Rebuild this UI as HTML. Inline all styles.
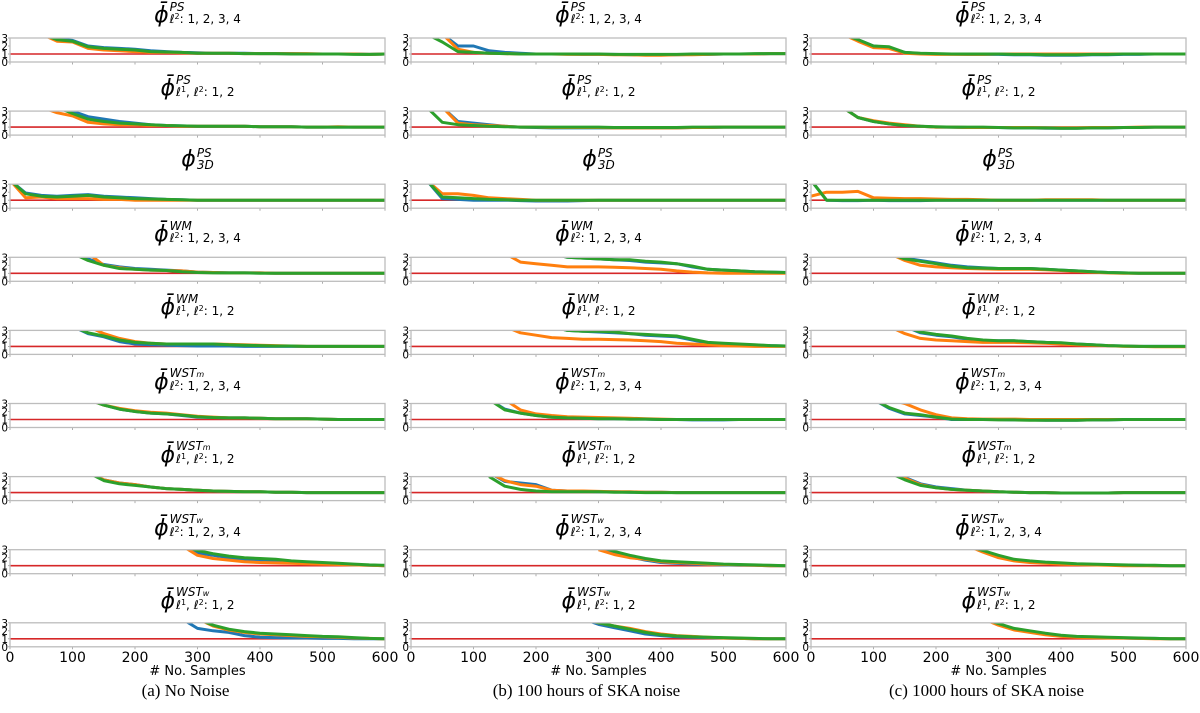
<!DOCTYPE html>
<html><head><meta charset="utf-8">
<style>
html,body{margin:0;padding:0;background:#fff;}
#root{position:relative;width:1200px;height:713px;overflow:hidden;font-family:"DejaVu Sans","Liberation Sans",sans-serif;}
.t{position:absolute;transform:translateX(-50%);white-space:nowrap;display:flex;align-items:flex-end;color:#000;}
.phi{font-size:22px;font-style:italic;line-height:22px;}
.ss{display:inline-flex;flex-direction:column;margin-left:1px;}
.sp{font-size:12px;font-style:italic;line-height:11px;}
.sb{font-size:12px;line-height:12px;margin-top:0px;}
.cap{position:absolute;transform:translateX(-50%);font-family:"Liberation Serif",serif;font-size:17px;white-space:nowrap;}
svg text{font-family:"DejaVu Sans","Liberation Sans",sans-serif;}
</style></head>
<body>
<div id="root">
<svg id="chart" width="1200" height="713" style="position:absolute;left:0;top:0"></svg>
</div>
<script>
const n = null;
const xSamples = [0,25,50,75,100,125,150,175,200,225,250,275,300,325,350,375,400,425,450,475,500,525,550,575,600];
const xTicks = [0,100,200,300,400,500,600];
const yTicks = [0,1,2,3];
const trueValue = 1;
const captions = ["(a) No Noise","(b) 100 hours of SKA noise","(c) 1000 hours of SKA noise"];
const seriesNames = ["blue","orange","green"];

const A1 = [[n,n,3.5,2.9,2.7,2.0,1.8,1.7,1.6,1.4,1.3,1.2,1.15,1.1,1.1,1.1,1.05,1.05,1.05,1.0,1.0,1.0,1.0,0.95,1.0],
[n,n,3.5,2.6,2.5,1.7,1.5,1.4,1.3,1.2,1.2,1.15,1.1,1.1,1.1,1.05,1.05,1.05,1.05,1.05,1.0,1.0,1.0,0.95,1.0],
[n,n,3.5,2.8,2.6,1.9,1.7,1.6,1.5,1.3,1.25,1.2,1.1,1.1,1.1,1.05,1.05,1.05,1.0,1.0,1.0,1.0,0.95,0.95,1.0]];
const A2 = [[n,n,n,3.5,3.0,2.3,2.0,1.7,1.5,1.3,1.2,1.15,1.1,1.1,1.1,1.1,1.05,1.05,1.05,1.0,1.0,1.0,1.0,1.0,1.0],
[n,n,3.5,2.8,2.4,1.6,1.4,1.3,1.3,1.2,1.2,1.1,1.1,1.1,1.1,1.1,1.05,1.05,1.05,1.0,1.0,1.05,1.0,1.0,1.0],
[n,n,n,3.5,2.7,2.0,1.7,1.5,1.4,1.3,1.2,1.15,1.1,1.1,1.1,1.1,1.05,1.05,1.05,1.0,1.0,1.0,1.0,1.0,1.0]];
const A3 = [[3.5,1.9,1.6,1.5,1.6,1.7,1.5,1.4,1.3,1.2,1.1,1.05,1.0,1.0,1.0,1.0,1.0,1.0,1.0,1.0,1.0,1.0,1.0,1.0,1.0],
[3.5,1.3,1.4,1.2,1.2,1.2,1.1,1.1,1.0,1.0,1.0,1.0,1.0,1.0,1.0,1.0,1.0,1.0,1.0,1.0,1.0,1.0,1.0,1.0,1.0],
[3.5,1.8,1.5,1.4,1.5,1.6,1.4,1.3,1.2,1.15,1.1,1.05,1.0,1.0,1.0,1.0,1.0,1.0,1.0,1.0,1.0,1.0,1.0,1.0,1.0]];
const A4 = [[n,n,n,n,3.5,2.8,2.1,1.8,1.6,1.5,1.4,1.3,1.15,1.1,1.05,1.05,1.05,1.0,1.0,1.0,1.0,1.0,1.0,1.0,1.0],
[n,n,n,n,n,3.5,2.0,1.7,1.5,1.4,1.35,1.3,1.15,1.1,1.05,1.05,1.05,1.0,1.0,1.0,1.0,1.0,1.0,1.0,1.0],
[n,n,n,n,3.5,2.6,2.0,1.6,1.5,1.4,1.35,1.2,1.1,1.05,1.05,1.05,1.0,1.0,1.0,1.0,1.0,1.0,1.0,1.0,1.0]];
const A5 = [[n,n,n,n,3.5,2.6,2.2,1.6,1.3,1.2,1.15,1.1,1.05,1.05,1.05,1.0,1.0,1.0,1.0,1.0,1.0,1.0,1.0,1.0,1.0],
[n,n,n,n,n,3.5,2.6,2.0,1.6,1.4,1.3,1.3,1.3,1.3,1.25,1.2,1.15,1.1,1.05,1.0,1.0,1.0,1.0,1.0,1.0],
[n,n,n,n,3.5,2.7,2.3,1.8,1.5,1.4,1.3,1.3,1.3,1.3,1.2,1.15,1.1,1.05,1.05,1.0,1.0,1.0,1.0,1.0,1.0]];
const A6 = [[n,n,n,n,n,3.5,2.8,2.3,2.0,1.8,1.7,1.5,1.3,1.25,1.2,1.2,1.15,1.1,1.1,1.1,1.05,1.0,1.0,1.0,1.0],
[n,n,n,n,n,3.5,2.8,2.4,2.1,1.9,1.8,1.6,1.4,1.3,1.2,1.2,1.15,1.1,1.1,1.1,1.05,1.0,1.0,1.0,1.0],
[n,n,n,n,n,3.5,2.8,2.3,2.0,1.8,1.7,1.55,1.35,1.25,1.2,1.2,1.15,1.1,1.1,1.1,1.05,1.0,1.0,1.0,1.0]];
const A7 = [[n,n,n,n,n,3.5,2.6,2.2,2.0,1.7,1.5,1.4,1.3,1.2,1.15,1.1,1.1,1.05,1.05,1.0,1.0,1.0,1.0,1.0,1.0],
[n,n,n,n,n,3.5,2.6,2.2,2.0,1.7,1.5,1.4,1.3,1.2,1.15,1.1,1.1,1.05,1.05,1.0,1.0,1.0,1.0,1.0,1.0],
[n,n,n,n,n,3.5,2.5,2.1,1.9,1.7,1.5,1.4,1.3,1.2,1.15,1.1,1.1,1.05,1.05,1.0,1.0,1.0,1.0,1.0,1.0]];
const A8 = [[n,n,n,n,n,n,n,n,n,n,n,3.5,2.6,2.3,2.0,1.8,1.7,1.6,1.5,1.4,1.3,1.2,1.1,1.05,1.0],
[n,n,n,n,n,n,n,n,n,n,n,3.5,2.3,1.9,1.7,1.5,1.4,1.35,1.3,1.25,1.2,1.15,1.1,1.05,1.0],
[n,n,n,n,n,n,n,n,n,n,n,3.5,2.9,2.5,2.2,2.0,1.9,1.8,1.6,1.5,1.4,1.3,1.2,1.1,1.05]];
const A9 = [[n,n,n,n,n,n,n,n,n,n,n,3.5,2.3,2.0,1.8,1.4,1.2,1.15,1.1,1.1,1.05,1.05,1.0,1.0,1.0],
[n,n,n,n,n,n,n,n,n,n,n,n,3.5,2.6,2.1,1.8,1.6,1.5,1.4,1.3,1.25,1.2,1.1,1.05,1.0],
[n,n,n,n,n,n,n,n,n,n,n,n,3.5,2.7,2.2,1.9,1.7,1.6,1.5,1.4,1.3,1.25,1.15,1.05,1.0]];

const B1 = [[n,n,3.5,2.0,2.0,1.4,1.2,1.1,1.0,1.0,1.0,0.95,0.95,0.95,0.9,0.9,0.9,0.9,0.95,0.95,1.0,1.0,1.0,1.05,1.05],
[n,n,3.5,1.6,1.2,1.1,1.05,1.0,1.0,1.0,0.95,0.95,0.95,0.9,0.9,0.85,0.85,0.9,0.9,0.95,1.0,1.0,1.0,1.05,1.05],
[n,3.5,2.5,1.3,1.2,1.1,1.05,1.0,1.0,1.0,1.0,1.0,1.0,0.95,0.95,0.95,0.95,0.95,1.0,1.0,1.0,1.0,1.05,1.05,1.05]];
const B2 = [[n,n,3.5,1.7,1.5,1.3,1.1,1.0,0.95,0.9,0.9,0.9,0.9,0.9,0.9,0.9,0.9,0.9,0.95,0.95,1.0,1.0,1.0,1.0,1.0],
[n,n,3.5,1.5,1.3,1.2,1.1,1.0,1.0,0.95,0.95,0.95,0.95,0.9,0.9,0.9,0.9,0.9,0.95,0.95,1.0,1.0,1.0,1.0,1.0],
[n,3.5,1.6,1.3,1.2,1.1,1.05,1.0,1.0,1.0,1.0,1.0,1.0,0.95,0.95,0.95,0.95,0.95,1.0,1.0,1.0,1.0,1.0,1.0,1.0]];
const B3 = [[3.5,3.5,1.2,1.1,1.0,1.0,1.0,0.95,0.9,0.9,0.9,0.95,1.0,1.0,1.0,1.0,1.0,1.0,1.0,1.0,1.0,1.0,1.0,1.0,1.0],
[3.5,3.5,1.8,1.8,1.6,1.3,1.2,1.1,1.0,1.0,1.0,1.0,1.0,1.0,1.0,1.0,1.0,1.0,1.0,1.0,1.0,1.0,1.0,1.0,1.0],
[3.5,3.5,1.4,1.3,1.2,1.1,1.05,1.0,1.0,1.0,1.0,1.0,1.0,1.0,1.0,1.0,1.0,1.0,1.0,1.0,1.0,1.0,1.0,1.0,1.0]];
const B4 = [[n,n,n,n,n,n,n,n,n,3.5,3.0,2.9,2.8,2.7,2.6,2.4,2.3,2.2,1.8,1.5,1.4,1.3,1.2,1.15,1.1],
[n,n,n,n,n,n,3.5,2.4,2.2,2.0,1.8,1.8,1.8,1.75,1.7,1.6,1.5,1.3,1.15,1.05,1.0,1.0,1.0,1.0,1.0],
[n,n,n,n,n,n,n,n,n,3.5,3.0,2.9,2.8,2.7,2.7,2.5,2.4,2.2,1.9,1.5,1.4,1.3,1.2,1.15,1.1]];
const B5 = [[n,n,n,n,n,n,n,n,n,3.5,3.0,2.9,2.8,2.7,2.6,2.4,2.3,2.2,1.8,1.4,1.3,1.2,1.15,1.1,1.05],
[n,n,n,n,n,n,3.5,2.7,2.4,2.1,2.0,1.9,1.9,1.85,1.8,1.7,1.6,1.4,1.3,1.2,1.1,1.05,1.0,1.0,1.0],
[n,n,n,n,n,n,n,n,n,3.5,3.0,2.9,2.9,2.8,2.6,2.5,2.4,2.3,1.9,1.5,1.4,1.3,1.2,1.1,1.05]];
const B6 = [[n,n,n,n,n,3.5,2.3,1.8,1.5,1.3,1.2,1.15,1.1,1.1,1.05,1.05,1.0,1.0,0.95,0.95,0.95,1.0,1.0,1.0,1.0],
[n,n,n,n,n,n,3.5,2.2,1.7,1.5,1.35,1.3,1.25,1.2,1.15,1.1,1.05,1.0,1.0,1.0,1.0,1.0,1.0,1.0,1.0],
[n,n,n,n,n,3.5,2.2,1.8,1.5,1.3,1.2,1.15,1.1,1.1,1.05,1.05,1.0,1.0,1.0,1.0,1.0,1.0,1.0,1.0,1.0]];
const B7 = [[n,n,n,n,n,3.5,2.4,2.2,2.0,1.3,1.2,1.15,1.1,1.1,1.05,1.05,1.05,1.0,1.0,1.0,1.0,1.0,1.0,1.0,1.0],
[n,n,n,n,n,3.5,2.5,2.0,1.8,1.3,1.2,1.2,1.15,1.1,1.1,1.05,1.05,1.0,1.0,1.0,1.0,1.0,1.0,1.0,1.0],
[n,n,n,n,n,3.0,1.8,1.4,1.2,1.1,1.1,1.1,1.1,1.05,1.05,1.0,1.0,1.0,1.0,1.0,1.0,1.0,1.0,1.0,1.0]];
const B8 = [[n,n,n,n,n,n,n,n,n,n,n,n,3.5,2.6,2.1,1.7,1.4,1.3,1.2,1.15,1.1,1.05,1.05,1.0,1.0],
[n,n,n,n,n,n,n,n,n,n,n,n,3.0,2.4,2.0,1.8,1.5,1.4,1.3,1.2,1.15,1.1,1.05,1.0,1.0],
[n,n,n,n,n,n,n,n,n,n,n,n,3.5,2.8,2.3,1.9,1.6,1.5,1.4,1.3,1.2,1.15,1.1,1.05,1.0]];
const B9 = [[n,n,n,n,n,n,n,n,n,n,n,3.5,2.8,2.4,2.0,1.6,1.4,1.25,1.2,1.15,1.1,1.05,1.0,1.0,1.0],
[n,n,n,n,n,n,n,n,n,n,n,3.5,3.0,2.6,2.3,1.9,1.6,1.4,1.3,1.2,1.1,1.05,1.0,1.0,1.0],
[n,n,n,n,n,n,n,n,n,n,n,3.5,3.0,2.6,2.2,1.8,1.5,1.35,1.25,1.2,1.15,1.1,1.05,1.0,1.0]];

const C1 = [[n,n,3.5,2.8,2.0,1.8,1.2,1.05,1.0,1.0,0.95,0.95,0.95,0.9,0.9,0.85,0.85,0.85,0.9,0.9,0.95,0.95,1.0,1.0,1.0],
[n,n,3.5,2.6,1.8,1.7,1.1,1.0,0.95,0.95,0.95,0.95,1.0,1.0,1.0,1.0,1.0,1.0,1.0,1.0,1.0,1.0,1.0,1.0,1.0],
[n,n,3.5,2.8,2.0,1.9,1.2,1.1,1.05,1.0,1.0,1.0,1.0,0.95,0.95,0.9,0.9,0.9,0.95,0.95,1.0,1.0,1.0,1.0,1.0]];
const C2 = [[n,3.5,3.5,2.2,1.7,1.4,1.2,1.1,1.0,1.0,0.95,0.95,0.95,0.9,0.9,0.85,0.85,0.85,0.9,0.9,0.95,0.95,1.0,1.0,1.0],
[n,3.5,3.5,2.2,1.8,1.5,1.3,1.1,1.0,1.0,0.95,0.95,0.95,0.95,0.95,0.9,0.9,0.9,0.95,0.95,0.95,1.0,1.0,1.0,1.0],
[n,3.5,3.5,2.2,1.7,1.4,1.2,1.1,1.05,1.0,1.0,1.0,0.95,0.9,0.9,0.9,0.85,0.85,0.9,0.9,0.95,0.95,1.0,1.0,1.0]];
const C3 = [[3.5,1.0,0.95,0.95,1.0,0.95,0.95,0.95,1.0,1.0,1.0,1.0,1.0,1.0,1.0,1.0,1.0,1.0,1.0,1.0,1.0,1.0,1.0,1.0,1.0],
[1.5,2.0,2.0,2.1,1.3,1.25,1.2,1.2,1.15,1.1,1.1,1.05,1.0,1.0,1.0,1.05,1.05,1.05,1.05,1.0,1.0,1.0,1.0,1.0,1.0],
[3.5,1.0,1.0,1.0,1.0,1.0,1.0,1.0,1.0,1.0,1.0,1.0,1.0,1.0,1.0,1.0,1.0,1.0,1.0,1.0,1.0,1.0,1.0,1.0,1.0]];
const C4 = [[n,n,n,n,n,3.5,2.9,2.6,2.3,2.0,1.8,1.7,1.6,1.6,1.6,1.5,1.4,1.3,1.2,1.1,1.05,1.0,1.0,1.0,1.0],
[n,n,n,n,n,3.5,2.6,2.0,1.8,1.7,1.6,1.55,1.5,1.5,1.5,1.45,1.35,1.25,1.15,1.05,1.0,1.0,1.0,1.0,1.0],
[n,n,n,n,n,3.5,2.8,2.5,2.2,1.9,1.7,1.65,1.6,1.6,1.6,1.5,1.4,1.3,1.2,1.1,1.05,1.0,1.0,1.0,1.0]];
const C5 = [[n,n,n,n,n,n,3.5,2.7,2.4,2.2,1.9,1.7,1.7,1.7,1.6,1.5,1.4,1.3,1.2,1.1,1.05,1.0,1.0,1.0,1.0],
[n,n,n,n,n,3.5,2.6,2.0,1.8,1.7,1.6,1.5,1.5,1.5,1.45,1.4,1.3,1.2,1.15,1.1,1.0,1.0,0.95,0.95,0.95],
[n,n,n,n,n,n,3.5,2.8,2.5,2.3,2.0,1.8,1.7,1.7,1.6,1.5,1.45,1.3,1.2,1.1,1.05,1.0,1.0,1.0,1.0]];
const C6 = [[n,n,n,n,3.5,2.4,1.7,1.5,1.3,1.0,1.0,1.0,1.0,0.95,0.95,0.9,0.9,0.9,0.95,0.95,1.0,1.0,1.0,1.0,1.0],
[n,n,n,n,n,3.5,3.0,2.2,1.6,1.2,1.1,1.05,1.05,1.05,1.0,1.0,1.0,1.0,1.0,1.0,1.0,1.0,1.0,1.0,1.0],
[n,n,n,n,3.5,2.5,1.8,1.6,1.3,1.05,1.0,1.0,0.95,0.95,0.9,0.9,0.9,0.9,0.95,0.95,1.0,1.0,1.0,1.0,1.0]];
const C7 = [[n,n,n,n,n,3.5,2.9,2.1,1.7,1.5,1.3,1.2,1.1,1.05,1.0,1.0,0.95,0.95,0.95,0.95,1.0,1.0,1.0,1.0,1.0],
[n,n,n,n,n,3.5,2.8,2.0,1.6,1.4,1.3,1.2,1.1,1.05,1.0,1.0,0.95,0.95,0.95,0.95,1.0,1.0,1.0,1.0,1.0],
[n,n,n,n,n,3.5,2.6,1.9,1.6,1.4,1.3,1.2,1.1,1.05,1.0,1.0,0.95,0.95,0.95,0.95,1.0,1.0,1.0,1.0,1.0]];
const C8 = [[n,n,n,n,n,n,n,n,n,n,3.5,2.8,2.2,1.7,1.5,1.4,1.3,1.2,1.15,1.1,1.05,1.05,1.0,1.0,1.0],
[n,n,n,n,n,n,n,n,n,n,3.5,2.7,2.0,1.6,1.4,1.3,1.2,1.15,1.1,1.05,1.0,1.0,1.0,1.0,1.0],
[n,n,n,n,n,n,n,n,n,n,3.5,2.9,2.3,1.8,1.6,1.45,1.35,1.25,1.2,1.15,1.1,1.05,1.05,1.0,1.0]];
const C9 = [[n,n,n,n,n,n,n,n,n,n,n,3.5,2.8,2.2,1.9,1.6,1.4,1.25,1.2,1.15,1.1,1.05,1.05,1.0,1.0],
[n,n,n,n,n,n,n,n,n,n,n,3.5,2.7,2.1,1.8,1.5,1.3,1.2,1.15,1.1,1.1,1.05,1.0,1.0,1.0],
[n,n,n,n,n,n,n,n,n,n,n,3.5,2.9,2.3,2.0,1.7,1.45,1.3,1.25,1.2,1.15,1.1,1.05,1.0,1.0]];

const panels = [[A1,A2,A3,A4,A5,A6,A7,A8,A9],[B1,B2,B3,B4,B5,B6,B7,B8,B9],[C1,C2,C3,C4,C5,C6,C7,C8,C9]];

const titleSup = ["PS","PS","PS","WM","WM","WST","WST","WST","WST"];
const titleSupSub = ["","","","","","m","m","w","w"];
const titleSub = ["l2","l12","3D","l2","l12","l2","l12","l2","l12"];

const colLeft = [10,411,811];
const colW = 375;
const rowTop0 = 38, rowStep = 73.1, boxH = 24;
const colors = ["#1f77b4","#ff7f0e","#2ca02c"];
const NS = "http://www.w3.org/2000/svg";
const svg = document.getElementById("chart");
const root = document.getElementById("root");

function el(tag, attrs, parent){
  const e = document.createElementNS(NS, tag);
  for (const k in attrs) e.setAttribute(k, attrs[k]);
  (parent||svg).appendChild(e);
  return e;
}
function subHTML(kind){
  const l = '<i>ℓ</i>';
  const s1 = '<span style="font-size:8px;position:relative;top:-4px">1</span>';
  const s2 = '<span style="font-size:8px;position:relative;top:-4px">2</span>';
  if (kind==="l2") return l+s2+': 1, 2, 3, 4';
  if (kind==="l12") return l+s1+', '+l+s2+': 1, 2';
  return '<i>3D</i>';
}

const defs = el("defs", {});
for (let c=0;c<3;c++){
  const L = colLeft[c];
  const X = v => L + v/600*colW;
  for (let r=0;r<9;r++){
    const top = rowTop0 + r*rowStep;
    const Y = v => top + boxH - v/3*boxH;
    const cid = "clip"+c+"_"+r;
    const cp = el("clipPath", {id:cid}, defs);
    el("rect", {x:L, y:top, width:colW, height:boxH}, cp);

    const g = el("g", {});
    
    

    yTicks.forEach(t=>{
      const tx = el("text",{x:L-2,y:Y(t)+4,"font-size":10.5,"text-anchor":"end",fill:"#000"},g);
      tx.textContent = t;
      
      
      el("line",{x1:L-2,x2:L,y1:Y(t),y2:Y(t),stroke:"#999","stroke-width":0.8},g);
    });
    xTicks.forEach(t=>{
      el("line",{x1:X(t),x2:X(t),y1:top+boxH,y2:top+boxH+2.5,stroke:"#999","stroke-width":0.8},g);
    });

    const lg = el("g",{"clip-path":"url(#"+cid+")"},g);
    const ref = el("line",{x1:L,x2:L+colW,y1:Y(trueValue),y2:Y(trueValue),stroke:"#d62728","stroke-width":1.6},lg);
    
    

    const data = panels[c][r];
    data.forEach((vals,si)=>{
      let d = "";
      let started = false;
      vals.forEach((v,i)=>{
        if (v===null || i>=xSamples.length) { started=false; return; }
        d += (started?"L":"M") + X(xSamples[i]).toFixed(1) + "," + Y(v).toFixed(1);
        started = true;
      });
      const p = el("path",{d:d,fill:"none",stroke:colors[si],"stroke-width":3,"stroke-linejoin":"round"},lg);
      
      
    });
    const box = el("rect",{x:L,y:top,width:colW,height:boxH,fill:"none",stroke:"#bdbdbd","stroke-width":1.3},g);
    
    

    const t = document.createElement("div");
    t.className = "t";
    t.style.left = (L + colW/2) + "px";
    t.style.top = (top - 36) + "px";
    const bar = titleSub[r]==="3D" ? "ϕ" : "ϕ̄";
    const supTxt = '<i>'+titleSup[r]+'</i>' + (titleSupSub[r] ? '<i style="font-size:8px">'+titleSupSub[r]+'</i>' : '');
    t.innerHTML = '<span class="phi">'+bar+'</span><span class="ss"><span class="sp">'+supTxt+'</span><span class="sb">'+subHTML(titleSub[r])+'</span></span>';
    
    
    root.appendChild(t);

    if (r===8){
      xTicks.forEach(v=>{
        const tx = el("text",{x:X(v),y:top+boxH+15,"font-size":14,"text-anchor":"middle",fill:"#000"},g);
        tx.textContent = v;
        
        
      });
      const xl = el("text",{x:L+colW/2,y:top+boxH+28,"font-size":13,"text-anchor":"middle",fill:"#000"},g);
      xl.textContent = "# No. Samples";
      
      
    }
  }
  const cap = document.createElement("div");
  cap.className = "cap";
  cap.style.left = (colLeft[c] + colW/2 - 12) + "px";
  cap.style.top = "681px";
  cap.textContent = captions[c];
  
  
  root.appendChild(cap);
}
</script>
</body></html>
